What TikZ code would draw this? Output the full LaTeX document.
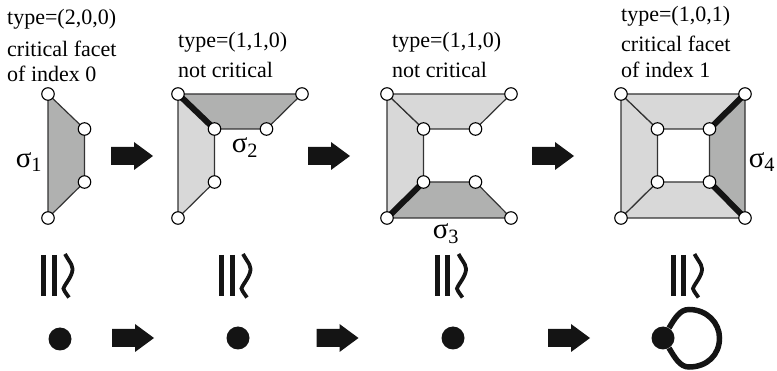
\documentclass[tikz,border=0pt]{standalone}
\usepackage{fontspec}
\setmainfont{Liberation Serif}
\usetikzlibrary{calc}

\definecolor{facetlight}{HTML}{D8D8D8}
\definecolor{facetdark}{HTML}{B0B1B0}
\definecolor{inkblack}{HTML}{141414}

\tikzset{
    vertex/.style={circle, draw=black, fill=white, line width=1.1pt, minimum size=12.5pt, inner sep=0pt},
    edge/.style={draw=black!80, line width=1.2pt},
    heavy/.style={draw=inkblack, line width=6pt},
    label/.style={anchor=base west, inner sep=0pt, font=\fontsize{22}{26}\selectfont},
    sigmalabel/.style={inner sep=0pt, font=\fontsize{29}{32}\selectfont},
    dot/.style={circle, fill=inkblack, minimum size=23pt, inner sep=0pt}
}

\begin{document}
\begin{tikzpicture}[x=1pt, y=-1pt]

\useasboundingbox (0,0) rectangle (777,371);

% Corners of each facet diagram
\foreach \f/\x in {1/48,2/178,3/387,4/621}
{
    \coordinate (tl\f) at (\x,94);
    \coordinate (tr\f) at (\x+124,94);
    \coordinate (bl\f) at (\x,218);
    \coordinate (br\f) at (\x+124,218);
    \coordinate (itl\f) at (\x+36.5,129);
    \coordinate (itr\f) at (\x+88.5,129);
    \coordinate (ibl\f) at (\x+36.5,182);
    \coordinate (ibr\f) at (\x+88.5,182);
}

% Facet 1
\filldraw[edge, fill=facetdark] (tl1) -- (itl1) -- (ibl1) -- (bl1) -- cycle;

% Facet 2
\filldraw[edge, fill=facetlight] (tl2) -- (itl2) -- (ibl2) -- (bl2) -- cycle;
\filldraw[edge, fill=facetdark] (tl2) -- (tr2) -- (itr2) -- (itl2) -- cycle;
\draw[heavy] (tl2) -- (itl2);

% Facet 3
\filldraw[edge, fill=facetlight] (tl3) -- (itl3) -- (ibl3) -- (bl3) -- cycle;
\filldraw[edge, fill=facetlight] (tl3) -- (tr3) -- (itr3) -- (itl3) -- cycle;
\filldraw[edge, fill=facetdark] (bl3) -- (br3) -- (ibr3) -- (ibl3) -- cycle;
\draw[heavy] (bl3) -- (ibl3);

% Facet 4
\filldraw[edge, fill=facetlight] (tl4) -- (itl4) -- (ibl4) -- (bl4) -- cycle;
\filldraw[edge, fill=facetlight] (tl4) -- (tr4) -- (itr4) -- (itl4) -- cycle;
\filldraw[edge, fill=facetlight] (bl4) -- (br4) -- (ibr4) -- (ibl4) -- cycle;
\filldraw[edge, fill=facetdark] (tr4) -- (br4) -- (ibr4) -- (itr4) -- cycle;
\draw[heavy] (tr4) -- (itr4);
\draw[heavy] (br4) -- (ibr4);

% Vertices
\foreach \p in {tl1,bl1,itl1,ibl1,
    tl2,tr2,bl2,itl2,itr2,ibl2,
    tl3,tr3,bl3,br3,itl3,itr3,ibl3,ibr3,
    tl4,tr4,bl4,br4,itl4,itr4,ibl4,ibr4}
{
    \node[vertex] (v\p) at (\p) {};
}

% Labels
\node[label] (type1) at (7,25) {type=(2,0,0)};
\node[label] (crit1) at (7,57) {critical facet};
\node[label] (idx1) at (7,82) {of index 0};
\node[label] (type2) at (178,48) {type=(1,1,0)};
\node[label] (crit2) at (178,78) {not critical};
\node[label] (type3) at (392,48) {type=(1,1,0)};
\node[label] (crit3) at (392,78) {not critical};
\node[label] (type4) at (621,22) {type=(1,0,1)};
\node[label] (crit4) at (621,52) {critical facet};
\node[label] (idx4) at (621,78) {of index 1};

% Sigmas
\node[sigmalabel] (sigma1) at (29,162) {σ\textsubscript{1}};
\node[sigmalabel] (sigma2) at (245,148) {σ\textsubscript{2}};
\node[sigmalabel] (sigma3) at (446,234) {σ\textsubscript{3}};
\node[sigmalabel] (sigma4) at (762,162) {σ\textsubscript{4}};

% Block arrows
\foreach \x/\y in {111/156,308/156,532/156,112/338,316.5/338,548/338}
{
    \fill[inkblack] (\x,\y-9) -- ++(23,0) -- ++(0,-5) -- (\x+42,\y) -- (\x+23,\y+14) -- ++(0,-5) -- (\x,\y+9) -- cycle;
}

% Homotopy signs
\foreach \x in {43.5,221.5,437,673}
{
    \draw[inkblack, line width=5pt] (\x,255) -- (\x,296);
    \draw[inkblack, line width=5pt] (\x+10.5,255) -- (\x+10.5,296);
    \draw[inkblack, line width=3.8pt] (\x+21.5,254)
    .. controls (\x+27,264) and (\x+31,266) .. (\x+28,274)
    .. controls (\x+25,282) and (\x+17,289) .. (\x+21,291)
    .. controls (\x+22,293) and (\x+24,295) .. (\x+25.5,297.5);
}

% Cells
\node[dot] (cell1) at (60,339) {};
\node[dot] (cell2) at (238,338) {};
\node[dot] (cell3) at (453,338) {};
\node[dot] (cell4) at (663,338) {};

% Loop
\draw[inkblack, line width=5.5pt] (cell4)
.. controls (675,318) and (680,309.5) .. (689,309.5)
.. controls (707,309.5) and (719.5,323) .. (719.5,338)
.. controls (719.5,355) and (707,367) .. (689,367)
.. controls (680,367) and (675,358) .. (cell4);

\end{tikzpicture}
\end{document}
